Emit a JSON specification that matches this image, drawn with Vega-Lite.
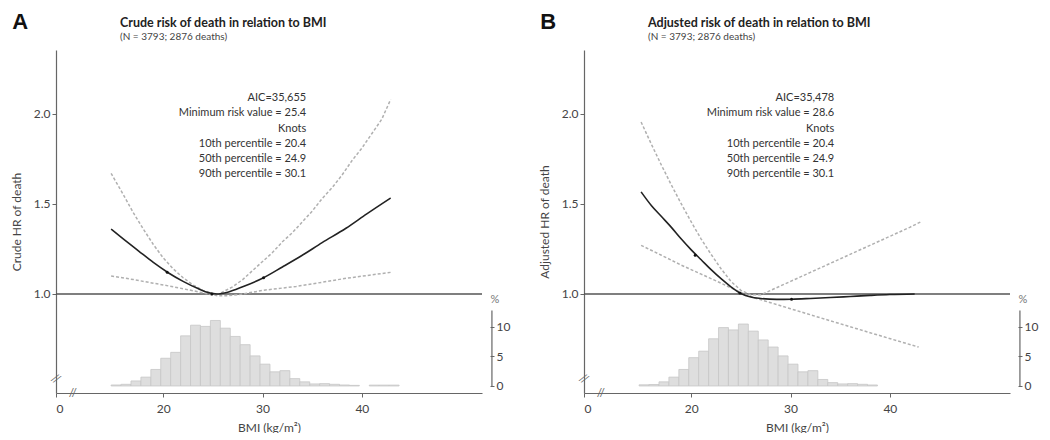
{
  "$schema": "https://vega.github.io/schema/vega-lite/v6.json",
  "background": "white",
  "padding": {"left": 10, "top": 11, "right": 5, "bottom": 0},
  "spacing": 28,
  "config": {
    "view": {"stroke": null},
    "font": "Lato",
    "axis": {"grid": false, "labelFont": "Lato", "labelFontSize": 12, "labelColor": "#444", "titleFont": "Lato", "titleFontSize": 12, "titleFontWeight": "normal", "titleColor": "#444", "domainColor": "#666", "tickColor": "#666", "domainWidth": 1.2},
    "title": {"font": "Lato", "fontSize": 12.5, "fontWeight": "bold", "color": "#222", "subtitleFont": "Lato", "subtitleFontSize": 10, "subtitleColor": "#444", "anchor": "start", "frame": "group", "offset": -31, "subtitlePadding": 3}
  },
  "datasets": {
    "curves": [
      {"panel": "A", "series": "HR", "bmi": 14.75, "hr": 1.36},
      {"panel": "A", "series": "HR", "bmi": 16, "hr": 1.305},
      {"panel": "A", "series": "HR", "bmi": 17.5, "hr": 1.24},
      {"panel": "A", "series": "HR", "bmi": 19, "hr": 1.175},
      {"panel": "A", "series": "HR", "bmi": 20.5, "hr": 1.118},
      {"panel": "A", "series": "HR", "bmi": 22, "hr": 1.07},
      {"panel": "A", "series": "HR", "bmi": 23.5, "hr": 1.03},
      {"panel": "A", "series": "HR", "bmi": 24.5, "hr": 1.008},
      {"panel": "A", "series": "HR", "bmi": 25.4, "hr": 1.0},
      {"panel": "A", "series": "HR", "bmi": 26.5, "hr": 1.01},
      {"panel": "A", "series": "HR", "bmi": 28, "hr": 1.04},
      {"panel": "A", "series": "HR", "bmi": 30.1, "hr": 1.09},
      {"panel": "A", "series": "HR", "bmi": 32, "hr": 1.15},
      {"panel": "A", "series": "HR", "bmi": 34, "hr": 1.215},
      {"panel": "A", "series": "HR", "bmi": 36, "hr": 1.285},
      {"panel": "A", "series": "HR", "bmi": 38.4, "hr": 1.365},
      {"panel": "A", "series": "HR", "bmi": 40.5, "hr": 1.445},
      {"panel": "A", "series": "HR", "bmi": 42.9, "hr": 1.533},
      {"panel": "A", "series": "Upper", "bmi": 14.75, "hr": 1.67},
      {"panel": "A", "series": "Upper", "bmi": 16, "hr": 1.55},
      {"panel": "A", "series": "Upper", "bmi": 17, "hr": 1.45},
      {"panel": "A", "series": "Upper", "bmi": 18, "hr": 1.36},
      {"panel": "A", "series": "Upper", "bmi": 19, "hr": 1.275},
      {"panel": "A", "series": "Upper", "bmi": 20, "hr": 1.2},
      {"panel": "A", "series": "Upper", "bmi": 21, "hr": 1.14},
      {"panel": "A", "series": "Upper", "bmi": 22, "hr": 1.09},
      {"panel": "A", "series": "Upper", "bmi": 23, "hr": 1.05},
      {"panel": "A", "series": "Upper", "bmi": 24, "hr": 1.02},
      {"panel": "A", "series": "Upper", "bmi": 25, "hr": 1.003},
      {"panel": "A", "series": "Upper", "bmi": 25.6, "hr": 1.0},
      {"panel": "A", "series": "Upper", "bmi": 27, "hr": 1.04},
      {"panel": "A", "series": "Upper", "bmi": 28, "hr": 1.08},
      {"panel": "A", "series": "Upper", "bmi": 29, "hr": 1.13},
      {"panel": "A", "series": "Upper", "bmi": 30, "hr": 1.18},
      {"panel": "A", "series": "Upper", "bmi": 31, "hr": 1.23},
      {"panel": "A", "series": "Upper", "bmi": 32, "hr": 1.29},
      {"panel": "A", "series": "Upper", "bmi": 33, "hr": 1.34},
      {"panel": "A", "series": "Upper", "bmi": 34, "hr": 1.4},
      {"panel": "A", "series": "Upper", "bmi": 35, "hr": 1.46},
      {"panel": "A", "series": "Upper", "bmi": 36, "hr": 1.53},
      {"panel": "A", "series": "Upper", "bmi": 37, "hr": 1.59},
      {"panel": "A", "series": "Upper", "bmi": 38, "hr": 1.66},
      {"panel": "A", "series": "Upper", "bmi": 39, "hr": 1.74},
      {"panel": "A", "series": "Upper", "bmi": 40, "hr": 1.81},
      {"panel": "A", "series": "Upper", "bmi": 41, "hr": 1.89},
      {"panel": "A", "series": "Upper", "bmi": 42, "hr": 1.97},
      {"panel": "A", "series": "Upper", "bmi": 42.9, "hr": 2.08},
      {"panel": "A", "series": "Lower", "bmi": 14.75, "hr": 1.1},
      {"panel": "A", "series": "Lower", "bmi": 17, "hr": 1.08},
      {"panel": "A", "series": "Lower", "bmi": 19, "hr": 1.06},
      {"panel": "A", "series": "Lower", "bmi": 21, "hr": 1.04},
      {"panel": "A", "series": "Lower", "bmi": 23, "hr": 1.018},
      {"panel": "A", "series": "Lower", "bmi": 24.5, "hr": 1.0},
      {"panel": "A", "series": "Lower", "bmi": 25.5, "hr": 0.99},
      {"panel": "A", "series": "Lower", "bmi": 26.5, "hr": 0.99},
      {"panel": "A", "series": "Lower", "bmi": 28, "hr": 1.0},
      {"panel": "A", "series": "Lower", "bmi": 30, "hr": 1.02},
      {"panel": "A", "series": "Lower", "bmi": 33.4, "hr": 1.042},
      {"panel": "A", "series": "Lower", "bmi": 36, "hr": 1.065},
      {"panel": "A", "series": "Lower", "bmi": 38.4, "hr": 1.087},
      {"panel": "A", "series": "Lower", "bmi": 42.9, "hr": 1.12},
      {"panel": "B", "series": "HR", "bmi": 14.95, "hr": 1.567},
      {"panel": "B", "series": "HR", "bmi": 16, "hr": 1.49},
      {"panel": "B", "series": "HR", "bmi": 17, "hr": 1.43},
      {"panel": "B", "series": "HR", "bmi": 18, "hr": 1.37},
      {"panel": "B", "series": "HR", "bmi": 19, "hr": 1.305},
      {"panel": "B", "series": "HR", "bmi": 20, "hr": 1.245},
      {"panel": "B", "series": "HR", "bmi": 21, "hr": 1.19},
      {"panel": "B", "series": "HR", "bmi": 22, "hr": 1.135},
      {"panel": "B", "series": "HR", "bmi": 23, "hr": 1.085},
      {"panel": "B", "series": "HR", "bmi": 24, "hr": 1.04},
      {"panel": "B", "series": "HR", "bmi": 25, "hr": 1.003},
      {"panel": "B", "series": "HR", "bmi": 26, "hr": 0.983},
      {"panel": "B", "series": "HR", "bmi": 27, "hr": 0.975},
      {"panel": "B", "series": "HR", "bmi": 28.6, "hr": 0.97},
      {"panel": "B", "series": "HR", "bmi": 30.1, "hr": 0.971},
      {"panel": "B", "series": "HR", "bmi": 32, "hr": 0.975},
      {"panel": "B", "series": "HR", "bmi": 34, "hr": 0.98},
      {"panel": "B", "series": "HR", "bmi": 36, "hr": 0.986},
      {"panel": "B", "series": "HR", "bmi": 38, "hr": 0.992},
      {"panel": "B", "series": "HR", "bmi": 40, "hr": 0.997},
      {"panel": "B", "series": "HR", "bmi": 42.5, "hr": 1.0},
      {"panel": "B", "series": "Upper", "bmi": 14.95, "hr": 1.955},
      {"panel": "B", "series": "Upper", "bmi": 16, "hr": 1.83},
      {"panel": "B", "series": "Upper", "bmi": 17, "hr": 1.715},
      {"panel": "B", "series": "Upper", "bmi": 18, "hr": 1.605},
      {"panel": "B", "series": "Upper", "bmi": 19, "hr": 1.5},
      {"panel": "B", "series": "Upper", "bmi": 20, "hr": 1.4},
      {"panel": "B", "series": "Upper", "bmi": 21, "hr": 1.305},
      {"panel": "B", "series": "Upper", "bmi": 22, "hr": 1.22},
      {"panel": "B", "series": "Upper", "bmi": 23, "hr": 1.14},
      {"panel": "B", "series": "Upper", "bmi": 24, "hr": 1.07},
      {"panel": "B", "series": "Upper", "bmi": 25, "hr": 1.02},
      {"panel": "B", "series": "Upper", "bmi": 26, "hr": 0.995},
      {"panel": "B", "series": "Upper", "bmi": 27, "hr": 0.995},
      {"panel": "B", "series": "Upper", "bmi": 28, "hr": 1.02},
      {"panel": "B", "series": "Upper", "bmi": 30, "hr": 1.07},
      {"panel": "B", "series": "Upper", "bmi": 32, "hr": 1.12},
      {"panel": "B", "series": "Upper", "bmi": 34, "hr": 1.17},
      {"panel": "B", "series": "Upper", "bmi": 36, "hr": 1.22},
      {"panel": "B", "series": "Upper", "bmi": 38, "hr": 1.27},
      {"panel": "B", "series": "Upper", "bmi": 40, "hr": 1.32},
      {"panel": "B", "series": "Upper", "bmi": 42, "hr": 1.37},
      {"panel": "B", "series": "Upper", "bmi": 43.1, "hr": 1.4},
      {"panel": "B", "series": "Lower", "bmi": 14.95, "hr": 1.27},
      {"panel": "B", "series": "Lower", "bmi": 17, "hr": 1.215},
      {"panel": "B", "series": "Lower", "bmi": 19, "hr": 1.16},
      {"panel": "B", "series": "Lower", "bmi": 21, "hr": 1.11},
      {"panel": "B", "series": "Lower", "bmi": 23, "hr": 1.06},
      {"panel": "B", "series": "Lower", "bmi": 25, "hr": 1.008},
      {"panel": "B", "series": "Lower", "bmi": 26.4, "hr": 0.978},
      {"panel": "B", "series": "Lower", "bmi": 30, "hr": 0.918},
      {"panel": "B", "series": "Lower", "bmi": 34, "hr": 0.851},
      {"panel": "B", "series": "Lower", "bmi": 38, "hr": 0.785},
      {"panel": "B", "series": "Lower", "bmi": 42.9, "hr": 0.705}
    ],
    "knots": [
      {"panel": "A", "bmi": 20.4, "hr": 1.12},
      {"panel": "A", "bmi": 24.9, "hr": 1.0},
      {"panel": "A", "bmi": 30.1, "hr": 1.09},
      {"panel": "B", "bmi": 20.4, "hr": 1.215},
      {"panel": "B", "bmi": 24.9, "hr": 1.006},
      {"panel": "B", "bmi": 30.1, "hr": 0.971}
    ],
    "notes": [
      {"panel": "A", "text": "AIC=35,655\nMinimum risk value = 25.4\nKnots\n10th percentile = 20.4\n50th percentile = 24.9\n90th percentile = 30.1"},
      {"panel": "B", "text": "AIC=35,478\nMinimum risk value = 28.6\nKnots\n10th percentile = 20.4\n50th percentile = 24.9\n90th percentile = 30.1"}
    ],
    "hist": [
      {"panel": "A", "lo": 14.75, "hi": 15.75, "pct": 0.17},
      {"panel": "A", "lo": 15.75, "hi": 16.75, "pct": 0.28},
      {"panel": "A", "lo": 16.75, "hi": 17.75, "pct": 0.85},
      {"panel": "A", "lo": 17.75, "hi": 18.75, "pct": 1.5},
      {"panel": "A", "lo": 18.75, "hi": 19.75, "pct": 2.8},
      {"panel": "A", "lo": 19.75, "hi": 20.75, "pct": 4.7},
      {"panel": "A", "lo": 20.75, "hi": 21.75, "pct": 5.7},
      {"panel": "A", "lo": 21.75, "hi": 22.75, "pct": 8.5},
      {"panel": "A", "lo": 22.75, "hi": 23.75, "pct": 10.3},
      {"panel": "A", "lo": 23.75, "hi": 24.75, "pct": 10.1},
      {"panel": "A", "lo": 24.75, "hi": 25.75, "pct": 11.1},
      {"panel": "A", "lo": 25.75, "hi": 26.75, "pct": 9.8},
      {"panel": "A", "lo": 26.75, "hi": 27.75, "pct": 8.4},
      {"panel": "A", "lo": 27.75, "hi": 28.75, "pct": 7.0},
      {"panel": "A", "lo": 28.75, "hi": 29.75, "pct": 5.1},
      {"panel": "A", "lo": 29.75, "hi": 30.75, "pct": 3.7},
      {"panel": "A", "lo": 30.75, "hi": 31.75, "pct": 2.4},
      {"panel": "A", "lo": 31.75, "hi": 32.75, "pct": 2.6},
      {"panel": "A", "lo": 32.75, "hi": 33.75, "pct": 1.25},
      {"panel": "A", "lo": 33.75, "hi": 34.75, "pct": 0.7},
      {"panel": "A", "lo": 34.75, "hi": 35.75, "pct": 0.35},
      {"panel": "A", "lo": 35.75, "hi": 36.75, "pct": 0.4},
      {"panel": "A", "lo": 36.75, "hi": 37.75, "pct": 0.28},
      {"panel": "A", "lo": 37.75, "hi": 38.75, "pct": 0.17},
      {"panel": "A", "lo": 38.75, "hi": 39.75, "pct": 0.1},
      {"panel": "A", "lo": 40.75, "hi": 41.75, "pct": 0.15},
      {"panel": "A", "lo": 41.75, "hi": 42.75, "pct": 0.15},
      {"panel": "A", "lo": 42.75, "hi": 43.75, "pct": 0.15},
      {"panel": "B", "lo": 14.75, "hi": 15.75, "pct": 0.2},
      {"panel": "B", "lo": 15.75, "hi": 16.75, "pct": 0.25},
      {"panel": "B", "lo": 16.75, "hi": 17.75, "pct": 0.7},
      {"panel": "B", "lo": 17.75, "hi": 18.75, "pct": 1.5},
      {"panel": "B", "lo": 18.75, "hi": 19.75, "pct": 2.8},
      {"panel": "B", "lo": 19.75, "hi": 20.75, "pct": 4.8},
      {"panel": "B", "lo": 20.75, "hi": 21.75, "pct": 5.9},
      {"panel": "B", "lo": 21.75, "hi": 22.75, "pct": 8.0},
      {"panel": "B", "lo": 22.75, "hi": 23.75, "pct": 9.9},
      {"panel": "B", "lo": 23.75, "hi": 24.75, "pct": 9.5},
      {"panel": "B", "lo": 24.75, "hi": 25.75, "pct": 10.5},
      {"panel": "B", "lo": 25.75, "hi": 26.75, "pct": 9.3},
      {"panel": "B", "lo": 26.75, "hi": 27.75, "pct": 7.8},
      {"panel": "B", "lo": 27.75, "hi": 28.75, "pct": 6.6},
      {"panel": "B", "lo": 28.75, "hi": 29.75, "pct": 5.1},
      {"panel": "B", "lo": 29.75, "hi": 30.75, "pct": 3.7},
      {"panel": "B", "lo": 30.75, "hi": 31.75, "pct": 2.4},
      {"panel": "B", "lo": 31.75, "hi": 32.75, "pct": 2.6},
      {"panel": "B", "lo": 32.75, "hi": 33.75, "pct": 1.1},
      {"panel": "B", "lo": 33.75, "hi": 34.75, "pct": 0.57},
      {"panel": "B", "lo": 34.75, "hi": 35.75, "pct": 0.35},
      {"panel": "B", "lo": 35.75, "hi": 36.75, "pct": 0.4},
      {"panel": "B", "lo": 36.75, "hi": 37.75, "pct": 0.28},
      {"panel": "B", "lo": 37.75, "hi": 38.75, "pct": 0.17}
    ],
    "panels": [
      {"panel": "A", "label": "A"},
      {"panel": "B", "label": "B"}
    ]
  },
  "hconcat": [
    {
      "width": 426,
      "height": 343,
      "title": {"text": "Crude risk of death in relation to BMI", "subtitle": "(N = 3793; 2876 deaths)", "dx": 64},
      "resolve": {"scale": {"y": "independent"}, "axis": {"y": "independent"}},
      "layer": [
        {
          "layer": [
            {
              "data": {"name": "hist"},
              "transform": [{"filter": "datum.panel === 'A'"}],
              "mark": {"type": "rect", "fill": "#dedede", "stroke": "#c6c6c6", "strokeWidth": 0.8},
              "encoding": {
                "x": {"field": "lo", "type": "quantitative", "scale": {"domain": [9.2, 52.1], "nice": false, "zero": false},
                      "axis": {"values": [9.2, 20, 30, 40], "labelExpr": "datum.value < 10 ? '0' : datum.label", "title": "BMI (kg/m²)", "tickSize": 4, "labelPadding": 6, "titlePadding": 8}},
                "x2": {"field": "hi"},
                "y": {"field": "pct", "type": "quantitative", "scale": {"domain": [-1.19, 56.95], "nice": false, "zero": false},
                      "axis": {"orient": "right", "values": [0, 5, 10], "domain": false, "offset": 8, "tickSize": 4, "title": null}},
                "y2": {"datum": 0}
              }
            },
            {
              "data": {"name": "panels"},
              "transform": [{"filter": "datum.panel === 'A'"}],
              "mark": {"type": "rule", "color": "#666", "strokeWidth": 1.2},
              "encoding": {"x": {"datum": 53.1}, "y": {"datum": 0}, "y2": {"datum": 12.8}}
            },
            {
              "data": {"name": "panels"},
              "transform": [{"filter": "datum.panel === 'A'"}],
              "mark": {"type": "text", "text": "%", "fontSize": 11, "color": "#777", "align": "center", "baseline": "middle"},
              "encoding": {"x": {"datum": 53.4}, "y": {"datum": 14.6}}
            }
          ]
        },
        {
          "layer": [
            {
              "data": {"name": "panels"},
              "transform": [{"filter": "datum.panel === 'A'"}],
              "mark": {"type": "rule", "color": "#555", "strokeWidth": 1.5},
              "encoding": {"y": {"datum": 1, "type": "quantitative", "scale": {"domain": [0.45, 2.355], "nice": false, "zero": false},
                "axis": {"orient": "left", "values": [1, 1.5, 2], "format": ".1f", "title": "Crude HR of death", "tickSize": 4, "titlePadding": 10}}}
            },
            {
              "data": {"name": "curves"},
              "transform": [{"filter": "datum.panel === 'A' && datum.series !== 'HR'"}],
              "mark": {"type": "line", "color": "#b0b0b0", "strokeWidth": 1.5, "strokeDash": [3, 2]},
              "encoding": {"x": {"field": "bmi", "type": "quantitative"}, "y": {"field": "hr", "type": "quantitative"}, "detail": {"field": "series"}}
            },
            {
              "data": {"name": "curves"},
              "transform": [{"filter": "datum.panel === 'A' && datum.series === 'HR'"}],
              "mark": {"type": "line", "color": "#222", "strokeWidth": 1.6, "interpolate": "monotone"},
              "encoding": {"x": {"field": "bmi", "type": "quantitative"}, "y": {"field": "hr", "type": "quantitative"}}
            },
            {
              "data": {"name": "knots"},
              "transform": [{"filter": "datum.panel === 'A'"}],
              "mark": {"type": "circle", "color": "#111", "size": 9, "opacity": 1},
              "encoding": {"x": {"field": "bmi", "type": "quantitative"}, "y": {"field": "hr", "type": "quantitative"}}
            },
            {
              "data": {"name": "notes"},
              "transform": [{"filter": "datum.panel === 'A'"}],
              "mark": {"type": "text", "align": "right", "baseline": "top", "fontSize": 11, "lineHeight": 15.2, "lineBreak": "\n", "color": "#333"},
              "encoding": {"x": {"datum": 34.4}, "y": {"datum": 2.12}, "text": {"field": "text"}}
            },
            {
              "data": {"name": "panels"},
              "transform": [{"filter": "datum.panel === 'A'"}],
              "mark": {"type": "text", "font": "Liberation Sans", "fontSize": 22, "fontWeight": "bold", "align": "center", "baseline": "middle", "color": "#111"},
              "encoding": {"x": {"datum": 5.6}, "y": {"datum": 2.51}, "text": {"field": "label"}}
            },
            {
              "data": {"name": "panels"},
              "transform": [{"filter": "datum.panel === 'A'"}],
              "mark": {"type": "text", "text": "//", "fontSize": 12, "color": "#666", "align": "center", "baseline": "middle"},
              "encoding": {"x": {"datum": 10.9}, "y": {"datum": 0.45}}
            },
            {
              "data": {"name": "panels"},
              "transform": [{"filter": "datum.panel === 'A'"}],
              "mark": {"type": "text", "text": "//", "fontSize": 12, "color": "#666", "align": "center", "baseline": "middle", "angle": 30},
              "encoding": {"x": {"datum": 9.2}, "y": {"datum": 0.53}}
            }
          ]
        }
      ]
    },
    {
      "width": 426,
      "height": 343,
      "title": {"text": "Adjusted risk of death in relation to BMI", "subtitle": "(N = 3793; 2876 deaths)", "dx": 64},
      "resolve": {"scale": {"y": "independent"}, "axis": {"y": "independent"}},
      "layer": [
        {
          "layer": [
            {
              "data": {"name": "hist"},
              "transform": [{"filter": "datum.panel === 'B'"}],
              "mark": {"type": "rect", "fill": "#dedede", "stroke": "#c6c6c6", "strokeWidth": 0.8},
              "encoding": {
                "x": {"field": "lo", "type": "quantitative", "scale": {"domain": [9.2, 52.1], "nice": false, "zero": false},
                      "axis": {"values": [9.2, 20, 30, 40], "labelExpr": "datum.value < 10 ? '0' : datum.label", "title": "BMI (kg/m²)", "tickSize": 4, "labelPadding": 6, "titlePadding": 8}},
                "x2": {"field": "hi"},
                "y": {"field": "pct", "type": "quantitative", "scale": {"domain": [-1.19, 56.95], "nice": false, "zero": false},
                      "axis": {"orient": "right", "values": [0, 5, 10], "domain": false, "offset": 8, "tickSize": 4, "title": null}},
                "y2": {"datum": 0}
              }
            },
            {
              "data": {"name": "panels"},
              "transform": [{"filter": "datum.panel === 'B'"}],
              "mark": {"type": "rule", "color": "#666", "strokeWidth": 1.2},
              "encoding": {"x": {"datum": 53.1}, "y": {"datum": 0}, "y2": {"datum": 12.8}}
            },
            {
              "data": {"name": "panels"},
              "transform": [{"filter": "datum.panel === 'B'"}],
              "mark": {"type": "text", "text": "%", "fontSize": 11, "color": "#777", "align": "center", "baseline": "middle"},
              "encoding": {"x": {"datum": 53.4}, "y": {"datum": 14.6}}
            }
          ]
        },
        {
          "layer": [
            {
              "data": {"name": "panels"},
              "transform": [{"filter": "datum.panel === 'B'"}],
              "mark": {"type": "rule", "color": "#555", "strokeWidth": 1.5},
              "encoding": {"y": {"datum": 1, "type": "quantitative", "scale": {"domain": [0.45, 2.355], "nice": false, "zero": false},
                "axis": {"orient": "left", "values": [1, 1.5, 2], "format": ".1f", "title": "Adjusted HR of death", "tickSize": 4, "titlePadding": 10}}}
            },
            {
              "data": {"name": "curves"},
              "transform": [{"filter": "datum.panel === 'B' && datum.series !== 'HR'"}],
              "mark": {"type": "line", "color": "#b0b0b0", "strokeWidth": 1.5, "strokeDash": [3, 2]},
              "encoding": {"x": {"field": "bmi", "type": "quantitative"}, "y": {"field": "hr", "type": "quantitative"}, "detail": {"field": "series"}}
            },
            {
              "data": {"name": "curves"},
              "transform": [{"filter": "datum.panel === 'B' && datum.series === 'HR'"}],
              "mark": {"type": "line", "color": "#222", "strokeWidth": 1.6, "interpolate": "monotone"},
              "encoding": {"x": {"field": "bmi", "type": "quantitative"}, "y": {"field": "hr", "type": "quantitative"}}
            },
            {
              "data": {"name": "knots"},
              "transform": [{"filter": "datum.panel === 'B'"}],
              "mark": {"type": "circle", "color": "#111", "size": 9, "opacity": 1},
              "encoding": {"x": {"field": "bmi", "type": "quantitative"}, "y": {"field": "hr", "type": "quantitative"}}
            },
            {
              "data": {"name": "notes"},
              "transform": [{"filter": "datum.panel === 'B'"}],
              "mark": {"type": "text", "align": "right", "baseline": "top", "fontSize": 11, "lineHeight": 15.2, "lineBreak": "\n", "color": "#333"},
              "encoding": {"x": {"datum": 34.4}, "y": {"datum": 2.12}, "text": {"field": "text"}}
            },
            {
              "data": {"name": "panels"},
              "transform": [{"filter": "datum.panel === 'B'"}],
              "mark": {"type": "text", "font": "Liberation Sans", "fontSize": 22, "fontWeight": "bold", "align": "center", "baseline": "middle", "color": "#111"},
              "encoding": {"x": {"datum": 5.6}, "y": {"datum": 2.51}, "text": {"field": "label"}}
            },
            {
              "data": {"name": "panels"},
              "transform": [{"filter": "datum.panel === 'B'"}],
              "mark": {"type": "text", "text": "//", "fontSize": 12, "color": "#666", "align": "center", "baseline": "middle"},
              "encoding": {"x": {"datum": 10.9}, "y": {"datum": 0.45}}
            },
            {
              "data": {"name": "panels"},
              "transform": [{"filter": "datum.panel === 'B'"}],
              "mark": {"type": "text", "text": "//", "fontSize": 12, "color": "#666", "align": "center", "baseline": "middle", "angle": 30},
              "encoding": {"x": {"datum": 9.2}, "y": {"datum": 0.53}}
            }
          ]
        }
      ]
    }
  ]
}
